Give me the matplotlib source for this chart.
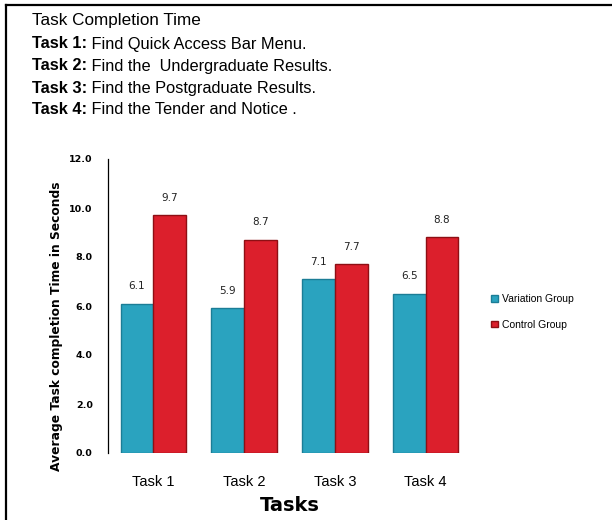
import matplotlib.pyplot as plt
import numpy as np
from matplotlib.lines import Line2D

tasks = ["Task 1", "Task 2", "Task 3", "Task 4"]
variation = [6.1, 5.9, 7.1, 6.5]
control = [9.7, 8.7, 7.7, 8.8]
series_names = ["Variation Group", "Control Group"]
yticks = [0, 2, 4, 6, 8, 10, 12]
header = [
    ("", "Task Completion Time"),
    ("Task 1:", " Find Quick Access Bar Menu."),
    ("Task 2:", " Find the  Undergraduate Results."),
    ("Task 3:", " Find the Postgraduate Results."),
    ("Task 4:", " Find the Tender and Notice ."),
]

teal = "#2aa3bf"
teal_edge = "#1b7d96"
red = "#dc1f2c"
red_edge = "#8e0f14"

plt.rcParams["font.family"] = ["Liberation Sans", "DejaVu Sans"]

fig = plt.figure(figsize=(6.12, 5.2), dpi=100)
W, H = 612, 520

# frame around the picture (top and left edges only)
fig.add_artist(Line2D([6 / W, 6 / W], [0, 1 - 5 / H], color="black", lw=1.6))
fig.add_artist(Line2D([6 / W, 1], [1 - 5 / H, 1 - 5 / H], color="black", lw=1.6))

# header text
line_y = [21, 44, 66, 88, 110]
for (bold, rest), y in zip(header, line_y):
    yy = 1 - y / H
    if bold:
        t = fig.text(32 / W, yy, bold, fontsize=11.8, fontweight="bold", va="center", ha="left")
        fig.canvas.draw()
        bb = t.get_window_extent()
        fig.text(bb.x1 / W, yy, rest, fontsize=11.8, va="center", ha="left")
    else:
        fig.text(32 / W, yy, rest, fontsize=12.3, va="center", ha="left")

ax = fig.add_axes([108 / W, 1 - 453 / H, 363 / W, 294 / H])
x = np.arange(len(tasks))
w = 0.36
b1 = ax.bar(x - w / 2, variation, w, color=teal, edgecolor=teal_edge, linewidth=1, label=series_names[0])
b2 = ax.bar(x + w / 2, control, w, color=red, edgecolor=red_edge, linewidth=1, label=series_names[1])

for bars, vals in ((b1, variation), (b2, control)):
    for rect, v in zip(bars, vals):
        ax.annotate(f"{v:.1f}", (rect.get_x() + rect.get_width() / 2, v),
                    xytext=(0, 9), textcoords="offset points", ha="center", va="bottom",
                    fontsize=7.5, family="DejaVu Sans", color="#222222")

ax.set_xlim(-0.5, 3.5)
ax.set_ylim(0, 12)
ax.set_yticks(yticks)
ax.set_yticklabels([f"{t:.1f}" for t in yticks], fontsize=6.8, fontweight="bold", family="DejaVu Sans")
ax.set_xticks(x)
ax.set_xticklabels(tasks, fontsize=10.5)
ax.tick_params(axis="both", length=0)
ax.tick_params(axis="y", pad=11)
ax.tick_params(axis="x", pad=16)
for s in ("top", "right", "bottom"):
    ax.spines[s].set_visible(False)
ax.spines["left"].set_linewidth(0.9)

ax.set_xlabel("Tasks", fontsize=14, fontweight="bold", labelpad=5, family="DejaVu Sans")
ax.set_ylabel("Average Task completion Time in Seconds", fontsize=8.8, fontweight="bold",
              family="DejaVu Sans")
ax.yaxis.set_label_coords(-0.125, 0.43)

leg = ax.legend(loc="center left", bbox_to_anchor=(1.03, 0.48), frameon=False,
                fontsize=7.5, handlelength=0.6, handleheight=0.6, handletextpad=0.4,
                labelspacing=1.5)

fig.savefig("out.png", dpi=100)
